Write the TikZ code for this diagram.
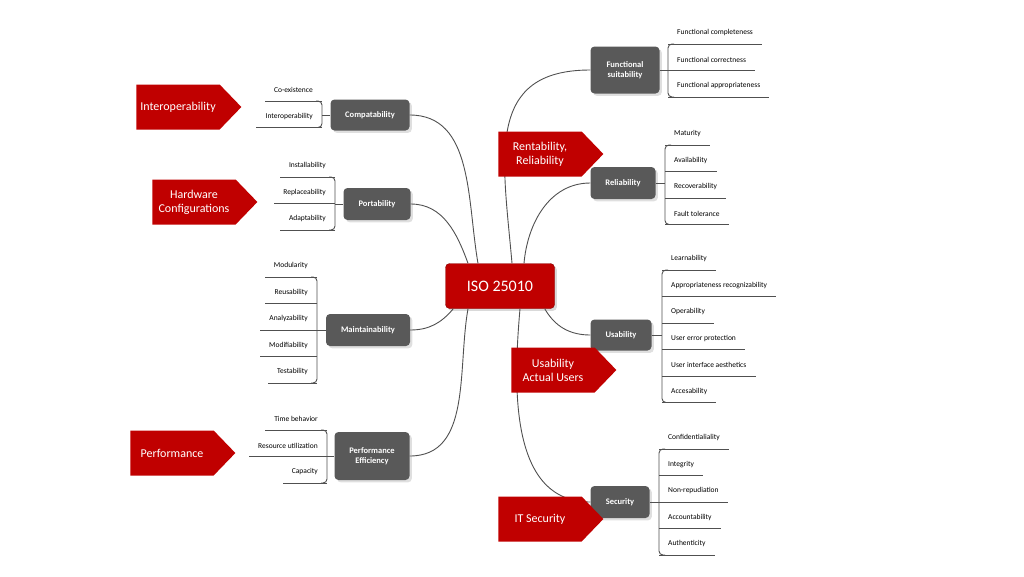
\documentclass[tikz,border=0pt]{standalone}
\usepackage{fontspec}
\setmainfont{Carlito}
\usetikzlibrary{shapes.symbols, shadows}
\definecolor{isored}{HTML}{C00000}
\definecolor{catgrey}{HTML}{595959}
\definecolor{linegrey}{HTML}{505050}

\tikzset{
  iso/.style={rectangle, rounded corners=4pt, minimum width=109pt, minimum height=45pt, fill=isored, draw=isored!70!black, text=white, font=\fontsize{16}{18}\selectfont, drop shadow={opacity=0.3}},
  cat/.style={rectangle, rounded corners=4pt, fill=catgrey, text=white, font=\bfseries\fontsize{8.5}{10}\selectfont, align=center, inner sep=2pt, drop shadow={opacity=0.25}},
  tag/.style={signal, signal to=east, signal pointer angle=92, fill=isored, text=white, minimum width=105pt, minimum height=45pt, align=center, inner sep=1pt, font=\fontsize{12}{14}\selectfont},
  leaf/.style={font=\fontsize{7.5}{8}\selectfont, inner sep=1pt},
  link/.style={linegrey, line width=0.9pt},
  brace/.style={linegrey, line width=0.9pt, rounded corners=4pt}
}

\begin{document}
\begin{tikzpicture}[x=1pt, y=-1pt]
\useasboundingbox (0,0) rectangle (1024,576);

\node (iso) [iso] at (500,286) {ISO 25010};

% quality characteristics
\node (func) [cat, minimum width=69pt, minimum height=47pt] at (625,70) {Functional\\suitability};
\node (reli) [cat, minimum width=65pt, minimum height=32pt] at (623,183) {Reliability};
\node (usab) [cat, minimum width=61pt, minimum height=31pt] at (621,335) {Usability};
\node (secu) [cat, minimum width=59pt, minimum height=32pt] at (620,502) {Security};
\node (comp) [cat, minimum width=79pt, minimum height=31pt] at (370,115) {Compatability};
\node (port) [cat, minimum width=67pt, minimum height=32pt] at (377,204) {Portability};
\node (main) [cat, minimum width=84pt, minimum height=32pt] at (368,330) {Maintainability};
\node (perf) [cat, minimum width=75pt, minimum height=48pt] at (372,456) {Performance\\Efficiency};

\draw [link] ([xshift=12pt]iso.north) to[out=95, in=180, looseness=1.3] (func.west);
\draw [link] ([xshift=24pt]iso.north) to[out=85, in=180] (reli.west);
\draw [link] ([xshift=-10pt]iso.south east) to[out=-60, in=180] (usab.west);
\draw [link] ([xshift=20pt]iso.south) to[out=-95, in=180] (secu.west);
\draw [link] ([xshift=-22pt]iso.north) to[out=100, in=0] (comp.east);
\draw [link] ([xshift=-32pt]iso.north) to[out=110, in=0] (port.east);
\draw [link] ([xshift=8pt]iso.south west) to[out=-130, in=0] (main.east);
\draw [link] ([xshift=-32pt]iso.south) to[out=-100, in=0] (perf.east);

% sub-characteristics, right side
\foreach \grp/\bx/\ytop/\items in {
  func/668/44/{Functional completeness,Functional correctness,Functional appropriateness},
  reli/665/145/{Maturity,Availability,Recoverability,Fault tolerance},
  usab/662/270/{Learnability,Appropriateness recognizability,Operability,User error protection,User interface aesthetics,Accesability},
  secu/659/449/{Confidentialiality,Integrity,Non-repudiation,Accountability,Authenticity}} {
  \coordinate (\grp-b) at (\bx, \ytop);
  \foreach \txt [count=\i] in \items {
    \node (\grp-\i) [leaf, anchor=south west] at (\bx+8, \ytop+26.5*\i-26.5-7) {\txt};
    \draw [link] (\bx, \ytop+26.5*\i-26.5) -- ([xshift=8pt, yshift=-7pt]\grp-\i.south east);
    \xdef\last{\i}
  }
  \draw [brace] (\bx+6, \ytop) -- (\bx, \ytop) -- (\bx, \ytop+26.5*\last-26.5) -- (\bx+6, \ytop+26.5*\last-26.5);
  \draw [link] (\grp.east) -- (\grp.east -| \grp-b);
}

% sub-characteristics, left side
\foreach \grp/\bx/\ytop/\items in {
  comp/322/101/{Co-existence,Interoperability},
  port/335/177/{Installability,Replaceability,Adaptability},
  main/317/277/{Modularity,Reusability,Analyzability,Modifiability,Testability},
  perf/327/430/{Time behavior,Resource utilization,Capacity}} {
  \coordinate (\grp-b) at (\bx, \ytop);
  \foreach \txt [count=\i] in \items {
    \node (\grp-\i) [leaf, anchor=south east] at (\bx-8, \ytop+26.5*\i-26.5-7) {\txt};
    \draw [link] (\bx, \ytop+26.5*\i-26.5) -- ([xshift=-8pt, yshift=-7pt]\grp-\i.south west);
    \xdef\last{\i}
  }
  \draw [brace] (\bx-6, \ytop) -- (\bx, \ytop) -- (\bx, \ytop+26.5*\last-26.5) -- (\bx-6, \ytop+26.5*\last-26.5);
  \draw [link] (\grp.west) -- (\grp.west -| \grp-b);
}

% stakeholder tags
\node (t-inter) [tag] at (178,107) {Interoperability};
\node (t-hw) [tag] at (194,202) {Hardware\\Configurations};
\node (t-perf) [tag] at (172,453) {Performance};
\node (t-rent) [tag] at (540,154) {Rentability,\\Reliability};
\node (t-user) [tag] at (553,370) {Usability\\Actual Users};
\node (t-sec) [tag] at (540,519) {IT Security};

\end{tikzpicture}
\end{document}
